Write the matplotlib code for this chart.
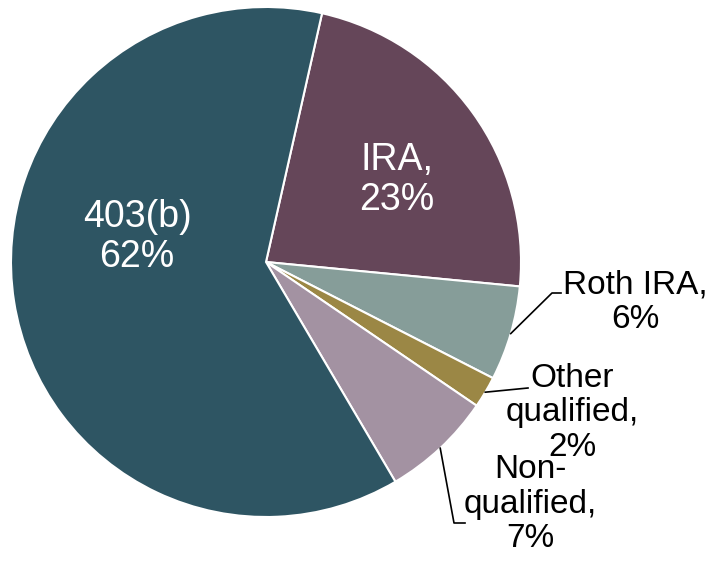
import numpy as np
import matplotlib.pyplot as plt

plt.rcParams['font.family'] = ['Liberation Sans', 'DejaVu Sans']

# slices in clockwise order, starting just right of 12 o'clock
labels = ['IRA,\n23%', 'Roth IRA,\n6%', 'Other\nqualified,\n2%', 'Non-\nqualified,\n7%', '403(b)\n62%']
shares = [23, 6, 2, 7, 62]
colors = ['#654659', '#869D99', '#9B8745', '#A392A2', '#2E5563']

W, H = 708, 563
cx, cy, r = 266, H - 262, 255
start = 77.3

fig = plt.figure(figsize=(W / 100, H / 100), dpi=100)
ax = fig.add_axes([0, 0, 1, 1])

wedges, _ = ax.pie(shares, colors=colors, startangle=start, counterclock=False,
                   center=(cx, cy), radius=r, frame=True,
                   wedgeprops=dict(edgecolor='white', linewidth=1.5))
ax.set_xlim(0, W)
ax.set_ylim(0, H)
ax.set_aspect('equal')
ax.axis('off')

# labels inside (white)
ax.text(137, H - 237, labels[4], color='white', fontsize=27, ha='center', va='center', linespacing=1.15)
ax.text(397, H - 180, labels[0], color='white', fontsize=27, ha='center', va='center', linespacing=1.15)

# outside labels with leader lines
outside = [
    (1, (635, H - 302), [(552, H - 293), (561, H - 293)]),
    (2, (572, H - 413), [(528, H - 388)]),
    (3, (530, H - 504), [(454, H - 523), (465, H - 523)]),
]
for i, pos, pts in outside:
    w = wedges[i]
    mid = np.deg2rad((w.theta1 + w.theta2) / 2)
    x0, y0 = cx + r * np.cos(mid), cy + r * np.sin(mid)
    xs = [x0] + [p[0] for p in pts]
    ys = [y0] + [p[1] for p in pts]
    ax.plot(xs, ys, color='black', lw=1.2)
    ax.text(pos[0], pos[1], labels[i], color='black', fontsize=24, ha='center', va='center', linespacing=1.15)

fig.savefig('out.png', dpi=100, facecolor='white')
